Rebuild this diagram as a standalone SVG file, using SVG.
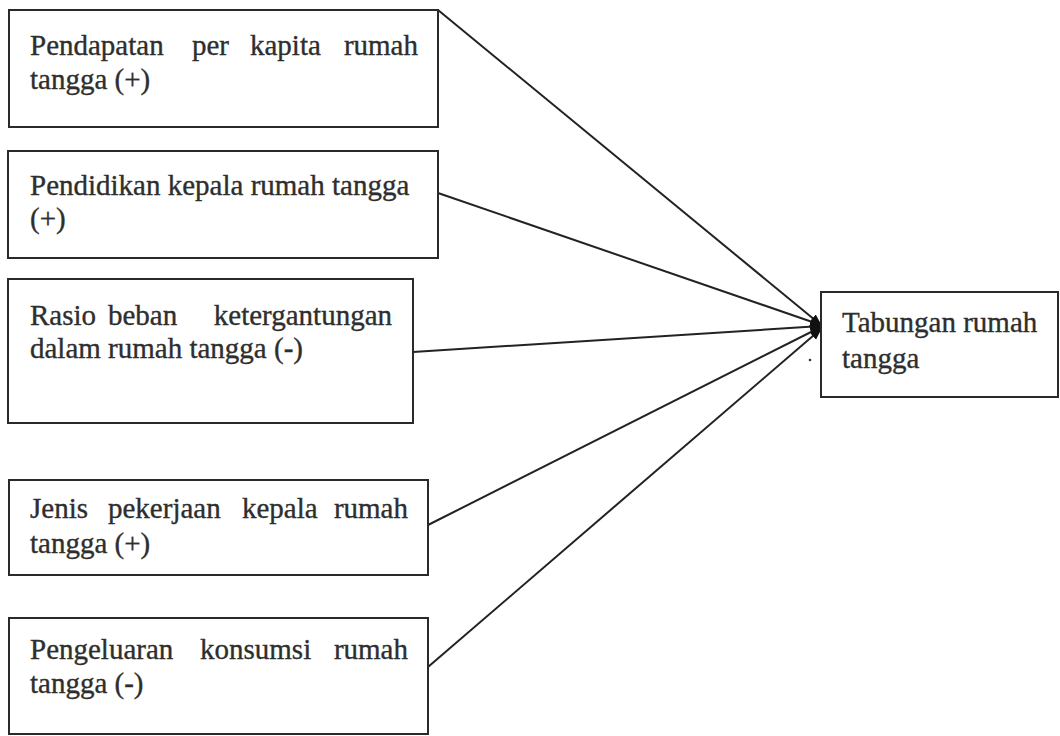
<svg xmlns="http://www.w3.org/2000/svg" width="1060" height="736" viewBox="0 0 1060 736">
<style>
.box{fill:#fff;stroke:#2a2a2a;stroke-width:2}
.t{font-family:"Liberation Serif","Times New Roman",serif;font-size:29px;fill:#2e2e2e;stroke:#2e2e2e;stroke-width:0.35}
.e{text-anchor:end}
.c{stroke:#222;stroke-width:2;fill:none;marker-end:url(#ah)}
</style>
<defs>
<marker id="ah" viewBox="0 0 10 10" refX="9" refY="5" markerWidth="6" markerHeight="6" markerUnits="strokeWidth" orient="auto">
<path d="M0,1 L10,5 L0,9 z" fill="#111"/>
</marker>
</defs>
<rect width="1060" height="736" fill="#fff"/>
<g id="connectors">
<line class="c" x1="438" y1="10" x2="821" y2="325"/>
<line class="c" x1="438" y1="193" x2="821" y2="325"/>
<line class="c" x1="413" y1="352" x2="821" y2="326"/>
<line class="c" x1="428" y1="525" x2="821" y2="327"/>
<line class="c" x1="428" y1="667" x2="821" y2="329"/>
</g>
<g id="n1">
<rect class="box" x="9" y="10" width="429" height="117"/>
<text class="t" x="30" y="55">Pendapatan</text>
<text class="t" x="192" y="55">per</text>
<text class="t" x="250" y="55">kapita</text>
<text class="t e" x="418" y="55">rumah</text>
<text class="t" x="30" y="89">tangga (+)</text>
</g>
<g id="n2">
<rect class="box" x="8" y="151" width="430" height="107"/>
<text class="t" x="30" y="195">Pendidikan kepala rumah tangga</text>
<text class="t" x="30" y="228">(+)</text>
</g>
<g id="n3">
<rect class="box" x="8" y="279" width="405" height="144"/>
<text class="t" x="30" y="325">Rasio</text>
<text class="t" x="108" y="325">beban</text>
<text class="t e" x="392" y="325">ketergantungan</text>
<text class="t" x="30" y="358">dalam rumah tangga (-)</text>
</g>
<g id="n4">
<rect class="box" x="9" y="480" width="419" height="95"/>
<text class="t" x="30" y="518">Jenis</text>
<text class="t" x="108" y="518">pekerjaan</text>
<text class="t" x="242" y="518">kepala</text>
<text class="t e" x="408" y="518">rumah</text>
<text class="t" x="30" y="553">tangga (+)</text>
</g>
<g id="n5">
<rect class="box" x="9" y="618" width="419" height="116"/>
<text class="t" x="30" y="659">Pengeluaran</text>
<text class="t" x="200" y="659">konsumsi</text>
<text class="t e" x="408" y="659">rumah</text>
<text class="t" x="30" y="693">tangga (-)</text>
</g>
<g id="n6">
<rect class="box" x="821" y="292" width="237" height="105"/>
<text class="t" x="842" y="332">Tabungan rumah</text>
<text class="t" x="842" y="368">tangga</text>
</g>
<circle cx="810" cy="360" r="1.3" fill="#333"/>
</svg>
